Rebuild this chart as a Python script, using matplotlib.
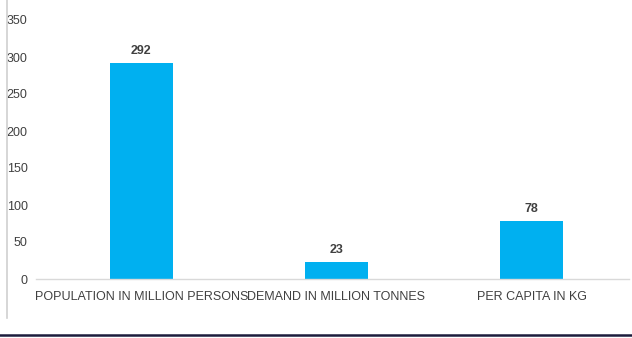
import matplotlib.pyplot as plt
from matplotlib.lines import Line2D

categories = ['POPULATION IN MILLION PERSONS', 'DEMAND IN MILLION TONNES', 'PER CAPITA IN KG']
values = [292, 23, 78]
yticks = [0, 50, 100, 150, 200, 250, 300, 350]

plt.rcParams['font.family'] = ['Liberation Sans Narrow', 'Liberation Sans', 'DejaVu Sans']

fig = plt.figure(figsize=(6.32, 3.38), dpi=100)
ax = fig.add_axes([36 / 632, 59 / 338, (629 - 36) / 632, 259 / 338])

x = range(len(categories))
bars = ax.bar(x, values, width=0.323, color='#00B0F0', zorder=2)
for b, v in zip(bars, values):
    ax.text(b.get_x() + b.get_width() / 2, v + 8, str(v), ha='center', va='bottom',
            fontsize=9, fontweight='bold', color='#404040')

ax.set_xlim(-0.54, 2.5)
ax.set_ylim(0, 350)
ax.set_yticks(yticks)
ax.set_xticks(list(x))
ax.set_xticklabels(categories, fontsize=9, color='#404040')
ax.tick_params(axis='y', length=0, labelsize=9, labelcolor='#404040', pad=6)
ax.tick_params(axis='x', length=0, pad=9)
for s in ['top', 'right', 'left']:
    ax.spines[s].set_visible(False)
ax.spines['bottom'].set_color('#d9d9d9')
ax.spines['bottom'].set_linewidth(1)

# frame lines around the chart
fig.add_artist(Line2D([7 / 632, 7 / 632], [(338 - 318) / 338, 1], color='#d0d0d0', lw=1.2))
fig.add_artist(Line2D([0, 1], [3 / 338, 3 / 338], color='#1c1c3c', lw=1.8))

fig.savefig('out.png', dpi=100)
